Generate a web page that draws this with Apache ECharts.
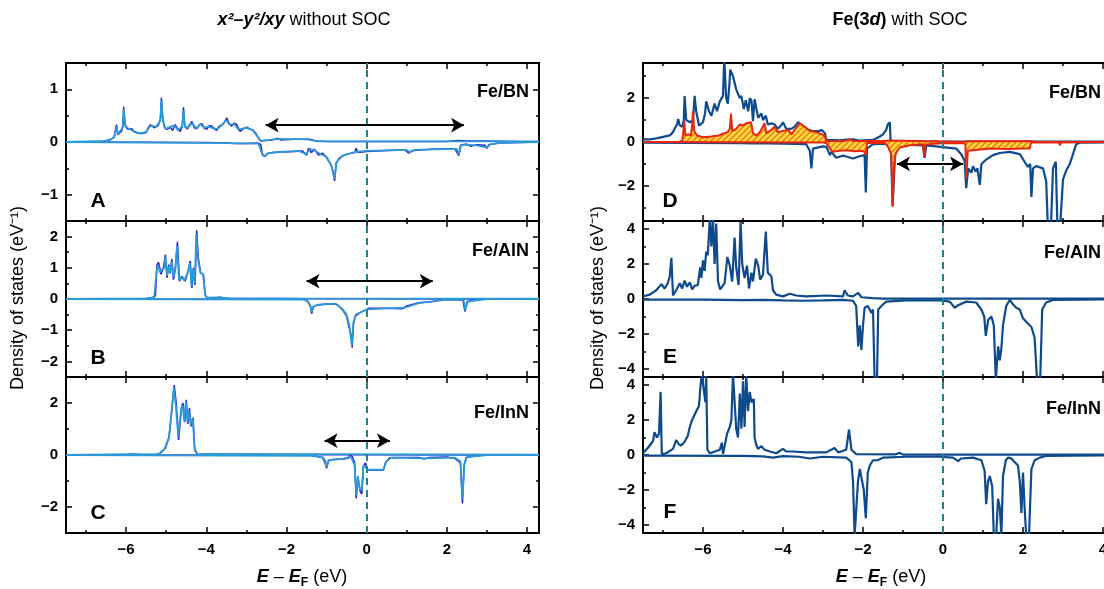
<!DOCTYPE html>
<html><head><meta charset="utf-8">
<script src="https://cdn.jsdelivr.net/npm/echarts@6/dist/echarts.min.js"></script>
<style>html,body{margin:0;padding:0;background:#fff}#c{width:1104px;height:589px}</style>
</head><body><div id="c"></div>
<script>
// ---------- tick labels ----------
const xMajorTicks = [-6, -4, -2, 0, 2, 4];
const xMinorTicks = [-7, -5, -3, -1, 1, 3];
const yTicksA = [-1, 0, 1],       yMinorA = [-0.5, 0.5];
const yTicksB = [-2, -1, 0, 1, 2], yMinorB = [-1.5, -0.5, 0.5, 1.5];
const yTicksC = [-2, 0, 2],       yMinorC = [-1, 1];
const yTicksD = [-2, 0, 2],       yMinorD = [-3, -1, 1, 3];
const yTicksE = [-4, -2, 0, 2, 4], yMinorE = [-3, -1, 1, 3];
const yTicksF = [-4, -2, 0, 2, 4], yMinorF = [-3, -1, 1, 3];
const panelNames = ['Fe/BN', 'Fe/AlN', 'Fe/InN', 'Fe/BN', 'Fe/AlN', 'Fe/InN'];
const panelLetters = ['A', 'B', 'C', 'D', 'E', 'F'];

// ---------- data: [E - EF (eV), DOS (1/eV)] ----------
const aUpDark = [[-7.5,0],[-6.6,0.01],[-6.4,0.04],[-6.3,0.09],[-6.26,0.12],[-6.24,0.33],[-6.21,0.14],[-6.12,0.2],[-6.08,0.3],[-6.06,0.67],[-6.03,0.35],[-5.98,0.25],[-5.92,0.24],[-5.85,0.25],[-5.81,0.2],[-5.72,0.17],[-5.6,0.16],[-5.5,0.18],[-5.44,0.28],[-5.4,0.33],[-5.3,0.27],[-5.2,0.31],[-5.14,0.45],[-5.12,0.84],[-5.09,0.45],[-5.04,0.27],[-4.98,0.24],[-4.9,0.28],[-4.84,0.22],[-4.78,0.33],[-4.72,0.26],[-4.65,0.2],[-4.6,0.3],[-4.57,0.66],[-4.54,0.3],[-4.47,0.25],[-4.42,0.32],[-4.36,0.39],[-4.3,0.27],[-4.24,0.25],[-4.17,0.33],[-4.11,0.35],[-4.05,0.26],[-3.99,0.24],[-3.93,0.31],[-3.86,0.3],[-3.8,0.25],[-3.74,0.22],[-3.68,0.3],[-3.61,0.32],[-3.55,0.37],[-3.49,0.46],[-3.43,0.35],[-3.37,0.3],[-3.3,0.36],[-3.24,0.33],[-3.16,0.2],[-3.08,0.25],[-2.99,0.28],[-2.9,0.24],[-2.83,0.22],[-2.76,0.16],[-2.7,0.08],[-2.64,0.02],[-2.55,0.03],[-2.35,0.04],[-2.21,0.07],[-2.15,0.04],[-1.8,0.05],[-1.4,0.05],[-1.25,0.02],[-1.0,0.01],[0,0.01],[2,0.01],[2.3,0.03],[2.5,0.02],[2.9,0.02],[4.3,0]];
const aDnDark = [[-7.5,0],[-4,-0.01],[-3.5,-0.02],[-3.3,-0.03],[-3.0,-0.03],[-2.7,-0.02],[-2.64,-0.05],[-2.6,-0.24],[-2.54,-0.28],[-2.47,-0.22],[-2.35,-0.2],[-2.1,-0.19],[-1.8,-0.18],[-1.6,-0.17],[-1.5,-0.25],[-1.45,-0.12],[-1.38,-0.2],[-1.3,-0.14],[-1.2,-0.25],[-1.1,-0.21],[-1.0,-0.3],[-0.9,-0.42],[-0.84,-0.55],[-0.8,-0.74],[-0.76,-0.4],[-0.68,-0.3],[-0.5,-0.23],[-0.3,-0.2],[-0.26,-0.12],[-0.22,-0.2],[0,-0.18],[0.5,-0.16],[0.95,-0.15],[1.05,-0.21],[1.15,-0.16],[1.6,-0.14],[2.2,-0.13],[2.3,-0.26],[2.34,-0.06],[2.5,-0.04],[2.6,-0.08],[2.75,-0.05],[2.95,-0.06],[3.0,-0.12],[3.05,-0.05],[3.3,-0.02],[4.3,0]];
const aUpLight = [[-7.5,0],[-6.5,0.02],[-6.3,0.08],[-6.24,0.3],[-6.2,0.15],[-6.09,0.27],[-6.06,0.62],[-6.02,0.3],[-5.95,0.26],[-5.8,0.2],[-5.65,0.16],[-5.5,0.19],[-5.4,0.31],[-5.25,0.29],[-5.15,0.4],[-5.12,0.8],[-5.08,0.4],[-5.02,0.25],[-4.9,0.29],[-4.8,0.31],[-4.7,0.22],[-4.6,0.3],[-4.57,0.6],[-4.53,0.28],[-4.45,0.28],[-4.36,0.36],[-4.25,0.26],[-4.15,0.34],[-4.05,0.27],[-3.95,0.29],[-3.82,0.26],[-3.72,0.25],[-3.6,0.33],[-3.5,0.42],[-3.42,0.33],[-3.3,0.34],[-3.2,0.24],[-3.0,0.27],[-2.85,0.23],[-2.72,0.1],[-2.64,0.02],[-2.4,0.04],[-2.2,0.06],[-1.5,0.05],[-1.2,0.01],[4.3,0.01]];
const aDnLight = [[-7.5,0],[-3.5,-0.02],[-2.7,-0.03],[-2.62,-0.2],[-2.55,-0.27],[-2.45,-0.21],[-2.2,-0.19],[-1.7,-0.17],[-1.5,-0.23],[-1.42,-0.13],[-1.3,-0.16],[-1.18,-0.22],[-1.0,-0.28],[-0.88,-0.45],[-0.8,-0.7],[-0.75,-0.38],[-0.6,-0.26],[-0.3,-0.19],[0,-0.17],[1.0,-0.15],[1.08,-0.2],[1.2,-0.15],[2.25,-0.13],[2.3,-0.24],[2.36,-0.05],[2.7,-0.06],[3.0,-0.1],[3.1,-0.04],[3.4,-0.01],[4.3,0]];

const bUpDark = [[-7.5,0],[-6,0.01],[-5.5,0.02],[-5.35,0.04],[-5.27,0.1],[-5.23,1.1],[-5.19,1.17],[-5.17,1.22],[-5.13,0.79],[-5.07,1.0],[-5.02,1.42],[-4.98,0.68],[-4.94,1.1],[-4.9,0.82],[-4.86,1.28],[-4.82,0.62],[-4.78,0.9],[-4.72,1.83],[-4.67,0.57],[-4.61,0.73],[-4.53,0.57],[-4.45,0.9],[-4.4,1.22],[-4.36,0.35],[-4.32,1.0],[-4.28,0.45],[-4.24,2.2],[-4.2,1.33],[-4.14,0.84],[-4.07,0.79],[-4.03,0.13],[-3.99,0.05],[-3.8,0.03],[-3.65,0.06],[-3.5,0.02],[-2.0,0.02],[-1.6,0.01],[4.3,0]];
const bDnDark = [[-7.5,0],[-1.6,-0.01],[-1.5,-0.05],[-1.45,-0.12],[-1.4,-0.25],[-1.37,-0.47],[-1.33,-0.25],[-1.25,-0.2],[-1.0,-0.16],[-0.78,-0.15],[-0.72,-0.2],[-0.6,-0.35],[-0.5,-0.55],[-0.44,-0.9],[-0.38,-1.2],[-0.36,-1.56],[-0.33,-0.8],[-0.28,-0.55],[-0.15,-0.42],[0,-0.35],[0.05,-0.3],[0.5,-0.3],[0.9,-0.31],[1.0,-0.22],[1.3,-0.12],[1.65,-0.08],[1.75,-0.05],[2.0,-0.02],[2.4,-0.03],[2.45,-0.4],[2.5,-0.1],[2.6,-0.03],[3,0],[4.3,0]];
const bUpLight = [[-7.5,0],[-5.5,0.02],[-5.3,0.05],[-5.24,0.9],[-5.2,1.1],[-5.16,0.85],[-5.1,0.95],[-5.05,1.0],[-5.02,1.35],[-4.98,0.75],[-4.93,1.05],[-4.9,0.85],[-4.86,1.2],[-4.82,0.7],[-4.77,0.95],[-4.73,1.7],[-4.68,0.6],[-4.62,0.7],[-4.55,0.6],[-4.46,0.85],[-4.41,1.15],[-4.37,0.4],[-4.33,0.95],[-4.29,0.5],[-4.25,2.1],[-4.21,1.3],[-4.15,0.85],[-4.08,0.8],[-4.03,0.15],[-3.98,0.04],[-3.7,0.05],[-3.4,0.02],[4.3,0.01]];
const bDnLight = [[-7.5,0],[-1.55,-0.02],[-1.45,-0.1],[-1.4,-0.22],[-1.37,-0.42],[-1.33,-0.24],[-1.2,-0.18],[-0.8,-0.15],[-0.7,-0.22],[-0.6,-0.33],[-0.5,-0.5],[-0.43,-0.85],[-0.37,-1.5],[-0.33,-0.75],[-0.27,-0.5],[-0.1,-0.4],[0,-0.33],[0.5,-0.3],[0.95,-0.28],[1.3,-0.13],[1.7,-0.07],[2.0,-0.02],[2.42,-0.03],[2.46,-0.36],[2.52,-0.08],[3,0],[4.3,0]];

const cUpDark = [[-7.5,0],[-6.0,0.01],[-5.85,0.04],[-5.7,0.02],[-5.3,0.01],[-5.16,0.05],[-5.02,0.26],[-4.93,0.7],[-4.86,1.73],[-4.8,2.69],[-4.75,2.0],[-4.69,0.58],[-4.62,1.83],[-4.58,2.0],[-4.54,1.27],[-4.5,2.12],[-4.46,1.2],[-4.42,1.8],[-4.38,1.1],[-4.33,1.44],[-4.29,0.2],[-4.22,0.02],[-3.95,0.05],[-3.8,0.02],[4.3,0]];
const cDnDark = [[-7.5,0],[-1.4,-0.01],[-1.27,-0.05],[-1.09,-0.1],[-1.03,-0.25],[-1.0,-0.51],[-0.95,-0.22],[-0.85,-0.17],[-0.56,-0.15],[-0.45,-0.12],[-0.42,0],[-0.36,-0.05],[-0.3,-0.3],[-0.26,-1.67],[-0.22,-0.85],[-0.16,-1.4],[-0.12,-1.5],[-0.08,-0.45],[-0.03,-0.3],[0.02,-0.58],[0.42,-0.58],[0.47,-0.3],[0.56,-0.12],[0.7,-0.1],[1.3,-0.1],[1.45,-0.15],[1.55,-0.1],[2.0,-0.08],[2.2,-0.13],[2.34,-0.3],[2.39,-1.86],[2.43,-0.4],[2.48,-0.1],[2.7,-0.03],[3.0,0],[4.3,0]];
const cUpLight = [[-7.5,0],[-5.85,0.03],[-5.2,0.02],[-5.05,0.22],[-4.93,0.65],[-4.87,1.6],[-4.81,2.6],[-4.76,1.9],[-4.7,0.7],[-4.63,1.75],[-4.59,1.9],[-4.55,1.3],[-4.51,2.05],[-4.47,1.25],[-4.43,1.7],[-4.39,1.15],[-4.34,1.4],[-4.29,0.25],[-4.22,0.02],[-3.95,0.04],[4.3,0.01]];
const cDnLight = [[-7.5,0],[-1.3,-0.03],[-1.1,-0.1],[-1.0,-0.45],[-0.95,-0.2],[-0.6,-0.15],[-0.43,-0.08],[-0.38,-0.1],[-0.3,-0.4],[-0.26,-1.55],[-0.22,-0.8],[-0.17,-1.3],[-0.12,-1.35],[-0.08,-0.4],[0.02,-0.55],[0.42,-0.56],[0.48,-0.28],[0.6,-0.1],[1.45,-0.13],[2.2,-0.1],[2.34,-0.25],[2.39,-1.7],[2.44,-0.35],[2.5,-0.08],[3,0],[4.3,0]];

const dUpTotal = [[-7.5,0.12],[-7.46,0.2],[-7.33,0.12],[-7.2,0.15],[-7.08,0.2],[-6.83,0.3],[-6.75,0.45],[-6.71,0.6],[-6.65,0.8],[-6.62,1.05],[-6.58,0.75],[-6.52,0.7],[-6.48,1.0],[-6.46,2.1],[-6.42,1.0],[-6.33,0.9],[-6.25,1.0],[-6.21,2.1],[-6.17,1.4],[-6.1,0.75],[-6.0,0.9],[-5.95,1.3],[-5.92,1.85],[-5.85,1.4],[-5.79,1.2],[-5.71,1.75],[-5.65,1.4],[-5.58,1.85],[-5.5,2.1],[-5.47,3.8],[-5.44,3.8],[-5.42,2.0],[-5.38,1.75],[-5.34,2.6],[-5.32,3.3],[-5.25,3.0],[-5.17,2.4],[-5.08,2.0],[-5.04,2.1],[-4.98,1.5],[-4.93,1.9],[-4.87,1.4],[-4.83,2.0],[-4.79,1.9],[-4.75,0.95],[-4.71,1.95],[-4.67,1.9],[-4.62,1.1],[-4.54,1.3],[-4.5,1.0],[-4.43,1.2],[-4.38,0.8],[-4.29,0.85],[-4.21,0.8],[-4.13,0.6],[-4.05,0.75],[-4.0,0.9],[-3.92,0.6],[-3.79,0.6],[-3.71,0.7],[-3.62,0.9],[-3.5,0.7],[-3.37,0.55],[-3.25,0.5],[-3.1,0.5],[-3.04,0.55],[-2.95,0.4],[-2.92,0.1],[-2.58,0.08],[-2.33,0.12],[-2.25,0.12],[-2.08,0.06],[-1.75,0.1],[-1.65,0.18],[-1.58,0.25],[-1.5,0.35],[-1.42,0.55],[-1.38,0.8],[-1.33,0.9],[-1.31,0.05],[-1.0,0.03],[4.3,0.02]];
const dDnTotal = [[-7.5,-0.03],[-5.08,-0.05],[-4.78,-0.06],[-4.75,-0.15],[-4.71,-0.05],[-4.0,-0.07],[-3.42,-0.1],[-3.33,-0.4],[-3.29,-1.2],[-3.25,-0.3],[-3.0,-0.2],[-2.92,-0.22],[-2.86,-0.45],[-2.83,-0.6],[-2.79,-0.45],[-2.67,-0.72],[-2.5,-0.62],[-2.42,-0.66],[-2.25,-0.75],[-2.08,-0.65],[-1.96,-0.6],[-1.93,-2.3],[-1.9,-0.3],[-1.75,-0.1],[-1.4,-0.08],[-1.3,-0.3],[-1.26,-2.9],[-1.2,-0.6],[-1.1,-0.15],[-0.92,-0.12],[-0.5,-0.15],[-0.46,-0.72],[-0.42,-0.15],[0,-0.23],[0.33,-0.3],[0.46,-0.57],[0.54,-0.87],[0.58,-2.1],[0.63,-1.2],[0.67,-1.3],[0.71,-1.4],[0.75,-1.1],[0.82,-1.35],[0.86,-1.2],[0.92,-1.95],[0.96,-1.0],[1.08,-0.8],[1.25,-0.6],[1.42,-0.5],[1.67,-0.45],[1.92,-0.55],[2.04,-0.9],[2.12,-1.13],[2.18,-1.0],[2.21,-2.5],[2.25,-1.2],[2.33,-1.1],[2.5,-1.2],[2.58,-1.8],[2.62,-3.8],[2.7,-3.8],[2.75,-1.2],[2.82,-0.9],[2.86,-3.8],[2.93,-3.8],[3.0,-1.7],[3.08,-1.3],[3.17,-1.0],[3.25,-0.55],[3.33,-0.1],[3.42,-0.03],[4.3,-0.02]];
const dUpPart = [[-7.5,0.0],[-6.6,0.01],[-6.52,0.05],[-6.5,0.3],[-6.47,0.95],[-6.44,0.3],[-6.38,0.35],[-6.3,0.3],[-6.27,0.8],[-6.25,1.4],[-6.22,0.5],[-6.15,0.3],[-6.0,0.22],[-5.8,0.25],[-5.6,0.3],[-5.54,0.35],[-5.46,0.4],[-5.38,0.45],[-5.33,0.6],[-5.3,1.3],[-5.27,0.5],[-5.17,0.6],[-5.08,0.8],[-5.0,0.75],[-4.92,0.85],[-4.8,0.9],[-4.75,0.4],[-4.67,0.3],[-4.58,0.45],[-4.46,0.85],[-4.42,0.4],[-4.29,0.55],[-4.21,0.7],[-4.13,0.45],[-4.0,0.5],[-3.87,0.55],[-3.79,0.35],[-3.71,0.55],[-3.58,0.85],[-3.46,0.7],[-3.33,0.5],[-3.17,0.45],[-2.96,0.3],[-2.92,0.05],[-2.5,0.03],[-2.33,0.12],[-2.25,0.05],[-1.5,0.05],[-1.35,0.07],[-1.3,0.0],[0.5,0.0],[0.6,0.03],[2.2,0.03],[2.3,0.0],[4.3,0.0]];
const dDnPart = [[-7.5,0],[-3.0,-0.02],[-2.92,-0.05],[-2.86,-0.2],[-2.83,-0.3],[-2.75,-0.45],[-2.6,-0.4],[-2.4,-0.38],[-2.2,-0.42],[-2.05,-0.4],[-1.96,-0.45],[-1.93,-0.6],[-1.9,-0.05],[-1.45,-0.05],[-1.38,-0.2],[-1.33,-0.4],[-1.29,-0.6],[-1.26,-2.95],[-1.22,-1.0],[-1.18,-0.5],[-1.08,-0.25],[-0.83,-0.15],[-0.5,-0.1],[-0.47,-0.7],[-0.44,-0.12],[-0.25,-0.08],[0,-0.06],[0.5,-0.05],[0.56,-0.1],[0.58,-1.67],[0.62,-0.4],[0.67,-0.33],[1.2,-0.3],[1.6,-0.32],[2.0,-0.3],[2.17,-0.3],[2.2,-0.02],[2.55,-0.02],[2.58,-0.1],[2.61,-0.02],[2.9,-0.02],[2.92,-0.15],[2.95,-0.02],[4.3,0]];

const eUpTotal = [[-7.5,0.15],[-7.33,0.25],[-7.17,0.5],[-7.04,0.85],[-6.96,0.6],[-6.88,0.9],[-6.83,1.3],[-6.79,2.35],[-6.75,0.2],[-6.67,0.5],[-6.58,0.9],[-6.52,0.6],[-6.46,1.05],[-6.4,0.7],[-6.33,0.95],[-6.27,0.55],[-6.21,0.75],[-6.13,0.8],[-6.07,1.8],[-6.04,1.2],[-6.0,2.2],[-5.96,1.6],[-5.92,2.7],[-5.88,2.5],[-5.83,4.6],[-5.79,3.0],[-5.75,4.6],[-5.71,2.0],[-5.67,4.3],[-5.625,1.0],[-5.57,0.55],[-5.46,0.9],[-5.39,2.4],[-5.33,1.9],[-5.27,1.0],[-5.21,3.5],[-5.17,1.8],[-5.11,0.8],[-5.06,4.4],[-5.02,2.0],[-4.96,1.2],[-4.9,1.9],[-4.85,0.6],[-4.79,1.5],[-4.75,1.0],[-4.68,2.3],[-4.62,1.9],[-4.57,1.1],[-4.5,1.4],[-4.43,3.85],[-4.38,1.5],[-4.29,1.3],[-4.25,0.5],[-4.17,0.25],[-4.0,0.15],[-3.83,0.3],[-3.67,0.2],[-3.42,0.15],[-2.92,0.2],[-2.5,0.15],[-2.46,0.5],[-2.42,0.6],[-2.38,0.2],[-2.25,0.15],[-2.12,0.35],[-2.04,0.1],[-1.75,0.05],[-1.5,0.02],[4.3,0.02]];
const eDnTotal = [[-7.5,-0.03],[-6,-0.04],[-5,-0.06],[-4.5,-0.05],[-4,-0.08],[-3.5,-0.1],[-3,-0.08],[-2.5,-0.05],[-2.25,-0.1],[-2.17,-0.4],[-2.12,-2.7],[-2.08,-1.5],[-2.04,-2.9],[-2.0,-1.5],[-1.96,-0.5],[-1.88,-0.4],[-1.79,-0.8],[-1.75,-0.6],[-1.71,-4.6],[-1.65,-4.6],[-1.62,-0.6],[-1.54,-0.4],[-1.42,-0.15],[-0.92,-0.08],[-0.08,-0.08],[0.17,-0.15],[0.29,-0.5],[0.38,-0.35],[0.58,-0.15],[0.83,-0.2],[0.96,-0.6],[1.03,-1.0],[1.07,-2.1],[1.13,-1.2],[1.21,-1.0],[1.27,-1.5],[1.32,-4.6],[1.38,-2.7],[1.42,-3.5],[1.46,-2.8],[1.5,-1.5],[1.58,-0.4],[1.67,-0.05],[1.75,-0.3],[1.83,-0.5],[1.92,-0.6],[2.0,-1.1],[2.08,-1.3],[2.21,-1.6],[2.29,-2.2],[2.35,-4.6],[2.43,-4.6],[2.48,-0.6],[2.58,-0.2],[2.75,-0.05],[4.3,-0.02]];

const fUpTotal = [[-7.5,0.1],[-7.38,0.4],[-7.25,0.8],[-7.21,1.3],[-7.15,1.0],[-7.1,1.2],[-7.06,3.6],[-7.03,0.05],[-6.92,0.1],[-6.75,0.35],[-6.67,0.85],[-6.6,0.6],[-6.54,0.55],[-6.46,0.75],[-6.38,1.1],[-6.33,1.6],[-6.29,1.9],[-6.25,2.1],[-6.17,2.5],[-6.1,2.8],[-6.06,4.0],[-6.03,4.6],[-5.98,4.6],[-5.94,3.0],[-5.92,4.6],[-5.89,0.3],[-5.83,0.1],[-5.58,0.3],[-5.53,0.7],[-5.5,0.05],[-5.4,1.2],[-5.33,1.6],[-5.29,2.0],[-5.25,4.6],[-5.21,4.6],[-5.17,1.5],[-5.125,1.0],[-5.08,3.5],[-5.04,1.5],[-5.0,4.2],[-4.96,1.6],[-4.92,4.6],[-4.875,2.5],[-4.83,3.6],[-4.79,3.0],[-4.73,3.2],[-4.71,1.0],[-4.67,0.6],[-4.625,0.35],[-4.54,0.5],[-4.46,0.3],[-4.33,0.2],[-4.17,0.1],[-4.0,0.35],[-3.92,0.2],[-3.75,0.2],[-3.42,0.15],[-2.92,0.15],[-2.71,0.4],[-2.62,0.15],[-2.42,0.3],[-2.35,1.45],[-2.29,0.3],[-2.17,0.05],[-1.2,0.03],[-1.08,0.12],[-1.0,0.02],[4.3,0.02]];
const fDnTotal = [[-7.5,-0.03],[-5,-0.05],[-4.5,-0.08],[-4.25,-0.15],[-4.0,-0.06],[-3.6,-0.1],[-3.33,-0.2],[-3.0,-0.1],[-2.42,-0.15],[-2.29,-0.4],[-2.25,-1.5],[-2.21,-4.6],[-2.17,-4.6],[-2.125,-1.5],[-2.08,-0.8],[-2.04,-0.9],[-1.98,-2.0],[-1.93,-3.6],[-1.88,-1.0],[-1.83,-0.6],[-1.75,-0.3],[-1.63,-0.3],[-1.5,-0.15],[-0.92,-0.1],[-0.08,-0.1],[0.25,-0.15],[0.38,-0.35],[0.45,-0.2],[0.75,-0.15],[0.96,-0.3],[1.04,-0.9],[1.08,-2.8],[1.125,-1.5],[1.17,-1.2],[1.23,-1.8],[1.27,-4.6],[1.33,-4.6],[1.375,-2.5],[1.42,-3.0],[1.46,-4.6],[1.5,-1.2],[1.57,-0.3],[1.625,-0.15],[1.71,-0.2],[1.79,-0.4],[1.875,-0.6],[1.92,-1.5],[1.96,-3.3],[2.0,-1.0],[2.04,-3.0],[2.08,-4.6],[2.15,-4.6],[2.21,-0.8],[2.29,-0.3],[2.42,-0.15],[2.58,-0.05],[4.3,-0.02]];

// gap arrows [start, end] in data units
const arrowA = [[-2.52, 0.32], [2.43, 0.32]];
const arrowB = [[-1.5, 0.57], [1.65, 0.57]];
const arrowC = [[-1.05, 0.55], [0.58, 0.55]];
const arrowD = [[-1.15, -1.0], [0.5, -1.0]];

// ---------- layout ----------
const FONT = '"Liberation Sans", Arial, Helvetica, sans-serif';
const C_DARK = '#2e1ccd', C_LIGHT = '#2c9ad8', C_NAVY = '#0e4a8c', C_RED = '#e8260e', C_TEAL = '#1d8787';
const panels = [
  {left:66,  top:63,  width:473, height:158, ymin:-1.5,  ymax:1.5,  yt:yTicksA, ym:yMinorA, xl:false},
  {left:66,  top:221, width:473, height:156, ymin:-2.5,  ymax:2.5,  yt:yTicksB, ym:yMinorB, xl:false},
  {left:66,  top:377, width:473, height:156, ymin:-3,    ymax:3,    yt:yTicksC, ym:yMinorC, xl:true},
  {left:643, top:63,  width:472, height:158, ymin:-3.6,  ymax:3.6,  yt:yTicksD, ym:yMinorD, xl:false},
  {left:643, top:221, width:472, height:156, ymin:-4.45, ymax:4.45, yt:yTicksE, ym:yMinorE, xl:false},
  {left:643, top:377, width:472, height:156, ymin:-4.45, ymax:4.45, yt:yTicksF, ym:yMinorF, xl:true}
];
const fmt = v => (v < 0 ? '\u2212' + Math.abs(v) : String(v));
const labStyle = {color:'#000', fontSize:15, fontWeight:'bold', fontFamily:FONT};

// hatch pattern for the filled orbital contribution
const hatch = document.createElement('canvas');
hatch.width = 6; hatch.height = 6;
(function(){
  const c = hatch.getContext('2d');
  c.fillStyle = '#ffd84a'; c.fillRect(0,0,6,6);
  c.strokeStyle = '#f07a00'; c.lineWidth = 1.4;
  c.beginPath();
  c.moveTo(-1,7); c.lineTo(7,-1);
  c.moveTo(-4,4); c.lineTo(4,-4);
  c.moveTo(2,10); c.lineTo(10,2);
  c.stroke();
})();

const grids = [], xAxis = [], yAxis = [], series = [];
panels.forEach((p, g) => {
  grids.push({left:p.left, top:p.top, width:p.width, height:p.height, show:true,
    borderColor:'#000', borderWidth:2, backgroundColor:'transparent', containLabel:false, outerBoundsMode:'none'});
  const xa = (pos, vals, len, lab) => ({gridIndex:g, type:'value', min:-7.5, max:4.3, position:pos,
    axisLine:{show:false, onZero:false}, splitLine:{show:false},
    axisTick:{show:true, inside:true, length:len, customValues:vals, lineStyle:{color:'#000', width:1.5}},
    axisLabel:Object.assign({show:lab, customValues:vals, formatter:fmt, margin:9}, labStyle)});
  xAxis.push(xa('bottom', xMajorTicks, 6, p.xl), xa('bottom', xMinorTicks, 3, false),
             xa('top', xMajorTicks, 6, false), xa('top', xMinorTicks, 3, false));
  const ya = (pos, vals, len, lab) => ({gridIndex:g, type:'value', min:p.ymin, max:p.ymax, position:pos,
    axisLine:{show:false, onZero:false}, splitLine:{show:false},
    axisTick:{show:true, inside:true, length:len, customValues:vals, lineStyle:{color:'#000', width:1.5}},
    axisLabel:Object.assign({show:lab, customValues:vals, formatter:fmt, margin:8}, labStyle)});
  yAxis.push(ya('left', p.yt, 6, true), ya('left', p.ym, 3, false),
             ya('right', p.yt, 6, false), ya('right', p.ym, 3, false));
});

const line = (g, data, color, width, z, extra) => Object.assign({
  type:'line', xAxisIndex:g*4, yAxisIndex:g*4, data, symbol:'none', showSymbol:false,
  lineStyle:{color, width}, itemStyle:{color}, z, animation:false, silent:true, clip:true
}, extra || {});
const marks = (arrow) => ({
  silent:true, animation:false, symbol:['none','none'], label:{show:false}, z:20,
  data:[{xAxis:0, lineStyle:{color:C_TEAL, width:2, type:[7,5]}}].concat(arrow ? [[
    {coord:arrow[0], symbol:'arrow', symbolSize:[11,13]},
    {coord:arrow[1], symbol:'arrow', symbolSize:[11,13], lineStyle:{color:'#000', width:2, type:'solid'}}
  ]] : [])
});

const leftSets = [
  [aUpDark, aDnDark, aUpLight, aDnLight, arrowA],
  [bUpDark, bDnDark, bUpLight, bDnLight, arrowB],
  [cUpDark, cDnDark, cUpLight, cDnLight, arrowC]
];
leftSets.forEach((s, g) => {
  series.push(line(g, s[0], C_DARK, 1.5, 2));
  series.push(line(g, s[1], C_DARK, 1.5, 2));
  series.push(line(g, s[2], C_LIGHT, 1.8, 3));
  series.push(line(g, s[3], C_LIGHT, 1.8, 3, {markLine:marks(s[4])}));
});
series.push(line(3, dUpTotal, C_NAVY, 2.2, 2));
series.push(line(3, dDnTotal, C_NAVY, 2.2, 2));
series.push(line(3, dUpPart, C_RED, 2, 3, {areaStyle:{color:{image:hatch, repeat:'repeat'}, opacity:1}}));
series.push(line(3, dDnPart, C_RED, 2, 3, {areaStyle:{color:{image:hatch, repeat:'repeat'}, opacity:1}, markLine:marks(arrowD)}));
series.push(line(4, eUpTotal, C_NAVY, 2.2, 2));
series.push(line(4, eDnTotal, C_NAVY, 2.2, 2, {markLine:marks(null)}));
series.push(line(5, fUpTotal, C_NAVY, 2.2, 2));
series.push(line(5, fDnTotal, C_NAVY, 2.2, 2, {markLine:marks(null)}));

// ---------- texts ----------
const T = (text, x, y, size, align, extra) => ({type:'text', x, y, z:100, silent:true,
  style:Object.assign({text, fill:'#000', font:'bold ' + size + 'px ' + FONT, align:align || 'center', verticalAlign:'middle'}, extra || {})});
const graphic = [];
const letterPos = [[98,201],[98,358],[98,513],[670,201],[670,357],[670,512]];
const namePos = [[529,92],[529,251],[529,413],[1101,93],[1101,253],[1101,409]];
panelLetters.forEach((l, i) => graphic.push(T(l, letterPos[i][0], letterPos[i][1], 21)));
panelNames.forEach((n, i) => graphic.push(T(n, namePos[i][0], namePos[i][1], 18, 'right')));
const base = {fontSize:18, fontFamily:FONT, fill:'#000', lineHeight:24};
graphic.push({type:'text', x:304, y:20, z:100, silent:true, style:{text:'{bi|x\u00b2\u2013y\u00b2/xy}{r| without SOC}', align:'center', verticalAlign:'middle',
  rich:{bi:Object.assign({}, base, {fontWeight:'bold', fontStyle:'italic'}), r:Object.assign({}, base)}}});
graphic.push({type:'text', x:900, y:20, z:100, silent:true, style:{text:'{b|Fe(3}{bi|d}{b|)}{r| with SOC}', align:'center', verticalAlign:'middle',
  rich:{b:Object.assign({}, base, {fontWeight:'bold'}), bi:Object.assign({}, base, {fontWeight:'bold', fontStyle:'italic'}), r:Object.assign({}, base)}}});
[[302, 577], [881, 577]].forEach(pos => graphic.push({type:'text', x:pos[0], y:pos[1], z:100, silent:true,
  style:{text:'{bi|E}{r| \u2013 }{bi|E}{sub|F}{r| (eV)}', align:'center', verticalAlign:'middle',
  rich:{bi:Object.assign({}, base, {fontWeight:'bold', fontStyle:'italic'}), r:Object.assign({}, base),
        sub:{fontSize:12, fontFamily:FONT, fontWeight:'bold', fill:'#000', lineHeight:24, verticalAlign:'bottom'}}}}));
[[18, 298], [598, 298]].forEach(pos => graphic.push({type:'text', x:pos[0], y:pos[1], rotation:Math.PI/2, z:100, silent:true,
  style:{text:'Density of states (eV\u207b\u00b9)', fill:'#000', font:'18px ' + FONT, align:'center', verticalAlign:'middle'}}));

const chart = echarts.init(document.getElementById('c'), null, {renderer:'canvas'});
chart.setOption({animation:false, backgroundColor:'#fff', grid:grids, xAxis, yAxis, series, graphic});
</script>
</body></html>
